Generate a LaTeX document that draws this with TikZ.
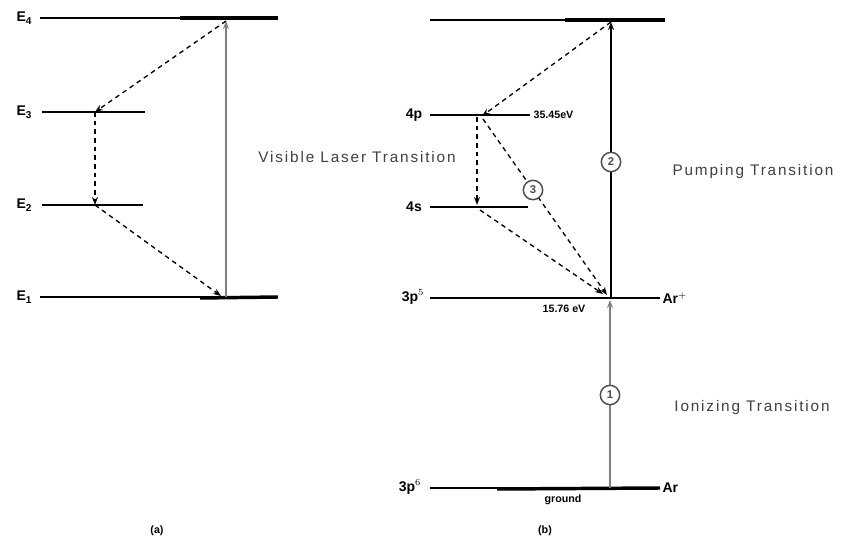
\documentclass[tikz,border=0pt]{standalone}
\usepackage{fontspec}
\setmainfont{Liberation Sans}
\usetikzlibrary{arrows.meta}
\newcommand{\esub}[1]{E\raisebox{-2.5pt}{\fontsize{7.5}{8}\selectfont\bfseries #1}}
\begin{document}
\begin{tikzpicture}[x=0.75pt,y=-0.75pt,
  level/.style={line width=1.6pt},
  thicklevel/.style={line width=2.6pt},
  tip/.style={-{Stealth[length=6pt,width=4.5pt]}},
  dasharrow/.style={dashed, dash pattern=on 3.5pt off 3pt, line width=1pt, tip},
  pumpline/.style={line width=1.5pt, tip},
  grayline/.style={line width=2.2pt, draw=black!50, tip},
  lbl/.style={font=\fontsize{10.5}{12}\selectfont\bfseries, inner sep=1pt},
  txt/.style={font=\fontsize{11.5}{13}\selectfont\addfontfeature{LetterSpace=12}, text=black!75, inner sep=1pt},
  small/.style={font=\fontsize{8}{10}\selectfont\bfseries, inner sep=1pt},
  circ/.style={circle, draw=black!70, line width=1.1pt, fill=white, inner sep=0.6pt, minimum size=14.5pt, font=\fontsize{8.5}{9}\selectfont\bfseries, text=black!70}]
\useasboundingbox (0,0) rectangle (851,542);

% ---------- (a) ----------
\coordinate (a4L) at (40,18);  \coordinate (a4R) at (278,18);
\coordinate (a3L) at (42,112); \coordinate (a3R) at (145,112);
\coordinate (a2L) at (42,205); \coordinate (a2R) at (143,205);
\coordinate (a1L) at (40,297); \coordinate (a1R) at (278,297);
\draw[level] (a4L) -- (a4R);
\draw[thicklevel] (180,18) -- (a4R);
\draw[level] (a3L) -- (a3R);
\draw[level] (a2L) -- (a2R);
\draw[level] (a1L) -- (a1R);
\draw[thicklevel] (200,298) -- (a1R);
\node[lbl] (lE4) at (24,18) {\esub{4}};
\node[lbl] (lE3) at (24,112) {\esub{3}};
\node[lbl] (lE2) at (24,205) {\esub{2}};
\node[lbl] (lE1) at (24,297) {\esub{1}};
\coordinate (pa1) at (226,297); \coordinate (pa4) at (226,21);
\coordinate (a3p) at (95,112);  \coordinate (a2p) at (95,205);
\coordinate (a1p) at (221,296);
\draw[grayline] (pa1) -- (pa4);
\draw[dasharrow] (pa4) -- (a3p);
\draw[dasharrow] (a3p) -- (a2p);
\draw[dasharrow] (a2p) -- (a1p);
\node[small] (capa) at (157,531) {(a)};

% ---------- (b) ----------
\coordinate (bTL) at (430,20);  \coordinate (bTR) at (665,20);
\coordinate (b4pL) at (430,115); \coordinate (b4pR) at (530,115);
\coordinate (b4sL) at (430,207); \coordinate (b4sR) at (528,207);
\coordinate (bIL) at (430,298);  \coordinate (bIR) at (660,298);
\coordinate (bGL) at (430,488);  \coordinate (bGR) at (660,488);
\draw[level] (bTL) -- (bTR);
\draw[thicklevel] (565,20) -- (bTR);
\draw[level] (b4pL) -- (b4pR);
\draw[level] (b4sL) -- (b4sR);
\draw[level] (bIL) -- (bIR);
\draw[level] (bGL) -- (bGR);
\draw[thicklevel] (497,489) -- (bGR);
\node[lbl] (l4p) at (414,115) {4p};
\node[lbl] (l4s) at (414,207) {4s};
\node[lbl] (l3p5) at (413,297) {3p$^5$};
\node[lbl] (l3p6) at (410,487) {3p$^6$};
\node[lbl, anchor=west] (lArp) at (661,298) {Ar$^+$};
\node[lbl, anchor=west] (lAr) at (661,488) {Ar};
\node[small, anchor=west] (e35) at (532,115) {35.45eV};
\node[small] (e15) at (564,309) {15.76 eV};
\node[small] (gnd) at (563,500) {ground};
\node[small] (capb) at (545,531) {(b)};

\coordinate (pI) at (611,298);  \coordinate (pT) at (611,22);
\coordinate (pG) at (610,488);  \coordinate (pI2) at (610,300);
\coordinate (t4p) at (482,116); \coordinate (s4p) at (477,117);
\coordinate (e4s) at (477,205); \coordinate (s4s) at (480,210);
\coordinate (eI1) at (603,294); \coordinate (s4p2) at (483,119);
\coordinate (eI2) at (607,295);
\draw[grayline] (pG) -- (pI2);
\draw[pumpline] (pI) -- (pT);
\draw[dasharrow] (pT) -- (t4p);
\draw[dasharrow] (s4p) -- (e4s);
\draw[dasharrow] (s4s) -- (eI1);
\draw[dasharrow] (s4p2) -- (eI2);
\node[circ] (c2) at (611,162) {2};
\node[circ] (c1) at (610,395) {1};
\node[circ] (c3) at (533,190) {3};

\node[txt] (vis) at (357,157) {Visible Laser Transition};
\node[txt] (pump) at (753,172) {Pumping Transition};
\node[txt] (ion) at (752,408) {Ionizing Transition};
\end{tikzpicture}
\end{document}
